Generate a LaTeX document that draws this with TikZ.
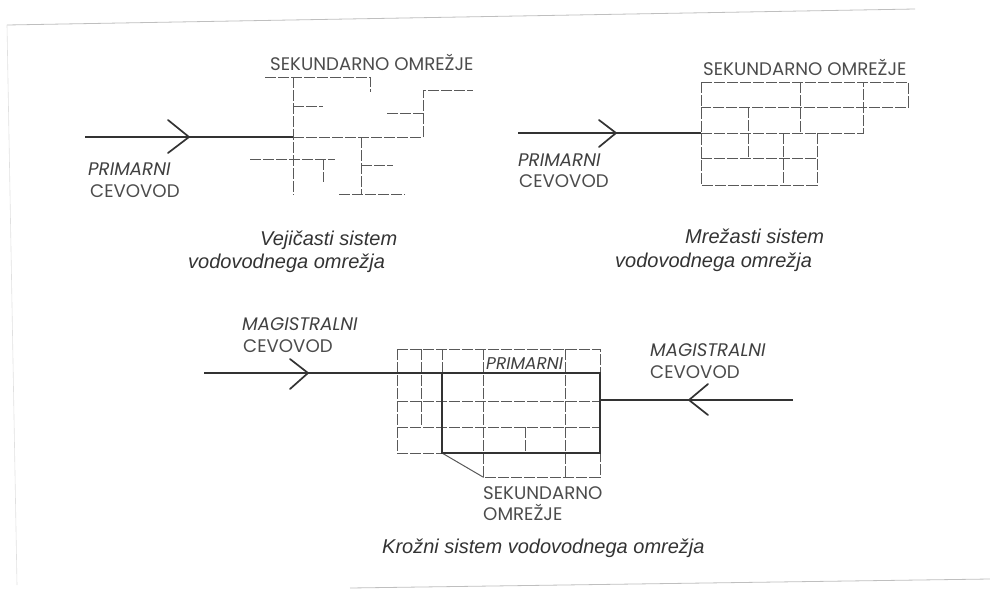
\documentclass[tikz,border=0pt]{standalone}
\usepackage{fontspec}
\setmainfont{Liberation Sans}
\newfontfamily\geo{Poppins}
\tikzset{
  pipe/.style={draw=black!80,line width=1.5pt},
  chevron/.style={draw=black!80,line width=1.7pt,line cap=round,line join=miter},
  net/.style={draw=black!65,line width=1pt,dash pattern=on 11pt off 2pt},
  plain/.style={draw=black!65,line width=1pt},
  scan/.style={draw=black!25,line width=0.8pt},
  upcap/.style={anchor=base west,inner sep=0pt,text=black!70,font=\geo\fontsize{18.2}{18}\selectfont},
  itcap/.style={anchor=base west,inner sep=0pt,text=black!75,font=\geo\itshape\fontsize{18.2}{18}\selectfont},
  itcapsmall/.style={anchor=base west,inner sep=0pt,text=black!75,font=\geo\itshape\fontsize{17}{18}\selectfont},
  titletext/.style={anchor=base west,inner sep=0pt,text=black!80,font=\itshape\fontsize{20}{20}\selectfont}
}
\begin{document}
\begin{tikzpicture}[x=1pt,y=-1pt]
\useasboundingbox (0,0) rectangle (990,589);
% scan edges
\draw[scan] (7,25) -- (915,9);
\draw[scan] (350,588) -- (990,579);
\draw[draw=black!12,line width=0.6pt] (7,25) -- (17,585);
% --- branched network
\coordinate (a0) at (85,137); \coordinate (a1) at (293,137); \coordinate (atip) at (189,137);
\draw[net] (265,77) -- (370,77) -- (370,92);
\draw[net] (293,77) -- (293,195);
\draw[net] (293,106) -- (323,106);
\draw[net] (a1) -- (423,137) -- (423,90) -- (473,90);
\draw[net] (387,113) -- (423,113);
\draw[net] (250,159) -- (335,159);
\draw[net] (323,159) -- (323,182);
\draw[net] (361,137) -- (361,195);
\draw[net] (361,165) -- (393,165);
\draw[net] (339,194) -- (405,194);
\draw[pipe] (a0) -- (a1);
\draw[chevron] (168,120) -- (atip) -- (168,153);
% --- meshed network
\coordinate (b0) at (518,133); \coordinate (b1) at (701,133); \coordinate (btip) at (616,133);
\draw[net] (701,82) -- (908,82) -- (908,107) -- (701,107);
\draw[net] (701,82) -- (701,185) -- (817,185) -- (817,133);
\draw[net] (b1) -- (863,133) -- (863,82);
\draw[net] (701,158) -- (817,158);
\draw[net] (748,107) -- (748,158);
\draw[net] (783,133) -- (783,185);
\draw[net] (800,82) -- (800,133);
\draw[pipe] (b0) -- (b1);
\draw[chevron] (599,120) -- (btip) -- (599,147);
% --- ring network
\coordinate (c0) at (204,373); \coordinate (c1) at (442,373); \coordinate (ctip) at (308,373);
\coordinate (d0) at (793,400); \coordinate (d1) at (600,400); \coordinate (dtip) at (689,400);
\draw[net] (397,349) -- (600,349) -- (600,373);
\draw[net] (397,401) -- (600,401);
\draw[net] (397,427) -- (600,427);
\draw[net] (397,349) -- (397,453) -- (442,453);
\draw[net] (421,349) -- (421,427);
\draw[net] (442,349) -- (442,373);
\draw[net] (483,349) -- (483,477) -- (600,477) -- (600,453);
\draw[net] (525,427) -- (525,453);
\draw[net] (565,349) -- (565,477);
\draw[plain] (442,453) -- (483,477);
\draw[pipe,line join=miter] (442,373) rectangle (600,453);
\draw[pipe] (c0) -- (c1);
\draw[pipe] (d0) -- (d1);
\draw[chevron] (290,359) -- (ctip) -- (290,389);
\draw[chevron] (708,384) -- (dtip) -- (708,415);
% --- labels
\node[upcap] (s1) at (270,70) {SEKUNDARNO OMREŽJE};
\node[itcap] (p1) at (88,175) {PRIMARNI};
\node[upcap] (v1) at (90,197) {CEVOVOD};
\node[upcap] (s2) at (703,75) {SEKUNDARNO OMREŽJE};
\node[itcap] (p2) at (518,166) {PRIMARNI};
\node[upcap] (v2) at (519,187) {CEVOVOD};
\node[titletext] (t1a) at (260,245) {Vejičasti sistem};
\node[titletext] (t1b) at (188,268) {vodovodnega omrežja};
\node[titletext] (t2a) at (685,243) {Mrežasti sistem};
\node[titletext] (t2b) at (615,267) {vodovodnega omrežja};
\node[itcap] (m1) at (242,330) {MAGISTRALNI};
\node[upcap] (v3) at (243,352) {CEVOVOD};
\node[itcap] (m2) at (650,356) {MAGISTRALNI};
\node[upcap] (v4) at (650,378) {CEVOVOD};
\node[itcapsmall] (p3) at (486,369) {PRIMARNI};
\node[upcap] (s3) at (483,499) {SEKUNDARNO};
\node[upcap] (s4) at (483,520) {OMREŽJE};
\node[titletext] (t3) at (382,553) {Krožni sistem vodovodnega omrežja};
\end{tikzpicture}
\end{document}
